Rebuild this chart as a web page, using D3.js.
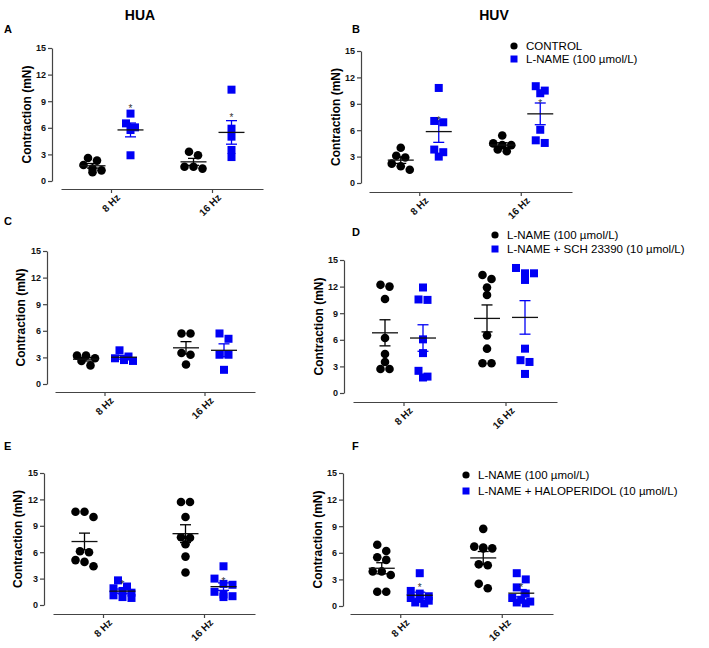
<!DOCTYPE html>
<html><head><meta charset="utf-8">
<script src="https://cdn.jsdelivr.net/npm/d3@7"></script>
<style>body{margin:0;background:#fff}svg{display:block}text{font-family:"Liberation Sans",Arial,sans-serif}</style>
</head><body><svg id="c" width="709" height="648"></svg>
<script>
// ---------- DATA ----------
const groups = ["8 Hz", "16 Hz"];
const yTicks = [0, 3, 6, 9, 12, 15];
const columnTitles = ["HUA", "HUV"];

// values per panel: [8 Hz values, 16 Hz values]
const A_black = [[2.6, 2.3, 1.8, 1.4, 1.0, 1.2], [3.3, 2.9, 1.6, 1.4, 1.6]];
const A_blue  = [[7.6, 6.5, 6.05, 5.75, 2.9], [10.3, 5.9, 5.0, 3.5, 2.7]];
const A_star  = [8.5, 7.5];

const B_black = [[4.0, 3.1, 2.9, 2.2, 1.9, 1.5], [5.4, 4.5, 4.3, 4.3, 3.8, 3.6]];
const B_blue  = [[10.8, 7.05, 6.9, 3.8, 3.5, 3.0], [11.0, 10.5, 10.2, 6.05, 4.85, 4.55]];
const B_star  = [7.4, 9.3];

const C_black = [[3.2, 3.2, 2.9, 2.6, 2.1], [5.7, 5.7, 3.5, 3.3, 2.2]];
const C_blue  = [[3.8, 3.1, 2.9, 2.7, 2.6], [5.7, 5.1, 3.3, 3.3, 1.6]];
const C_star  = [null, null];

const D_black = [[12.2, 12.0, 10.6, 6.2, 4.4, 3.5, 2.7, 2.7], [13.3, 12.85, 11.9, 11.05, 6.5, 5.0, 3.35, 3.35]];
const D_blue  = [[11.9, 10.55, 10.5, 6.05, 4.5, 2.5, 1.75, 1.85], [14.1, 13.5, 13.5, 12.75, 5.0, 3.7, 3.5, 2.15]];
const D_star  = [null, null];

const E_black = [[10.6, 10.6, 10.0, 6.1, 6.0, 5.1, 4.9, 4.4], [11.7, 11.7, 10.0, 7.7, 7.65, 6.9, 5.5, 3.7]];
const E_blue  = [[2.8, 2.1, 1.9, 1.6, 1.4, 1.1, 0.9, 0.8], [4.4, 3.0, 2.4, 2.3, 1.5, 1.2, 1.0, 0.9]];
const E_star  = [2.6, 3.0];

const F_black = [[6.9, 6.2, 5.5, 5.2, 3.9, 3.9, 3.5, 1.6, 1.6], [8.7, 6.7, 6.6, 6.5, 6.5, 4.7, 4.6, 2.5, 2.0]];
const F_blue  = [[3.7, 1.7, 1.4, 1.1, 0.9, 0.8, 0.6, 0.4, 0.3], [3.7, 3.0, 2.1, 1.4, 0.9, 0.7, 0.5, 0.4, 0.3]];
const F_star  = [2.4, 2.4];

const B_legend = ["CONTROL", "L-NAME (100 \u00b5mol/L)"];
const D_legend = ["L-NAME (100 \u00b5mol/L)", "L-NAME + SCH 23390 (10 \u00b5mol/L)"];
const F_legend = ["L-NAME  (100 \u00b5mol/L)", "L-NAME + HALOPERIDOL (10 \u00b5mol/L)"];

const yTitle = "Contraction (mN)";

// ---------- LAYOUT ----------
const layout = {
  A: {ax: 52,  y15: 48,  y0: 181, xAxisY: 189, x0: 61,  x1: 263, titleX: 27,  letter: [4, 33]},
  B: {ax: 361, y15: 51,  y0: 183, xAxisY: 192, x0: 369, x1: 572, titleX: 336, letter: [352, 33]},
  C: {ax: 47,  y15: 251, y0: 384, xAxisY: 392, x0: 55,  x1: 255, titleX: 21,  letter: [4, 225]},
  D: {ax: 344, y15: 260, y0: 393, xAxisY: 402, x0: 353, x1: 557, titleX: 319, letter: [352, 236]},
  E: {ax: 44,  y15: 473, y0: 605, xAxisY: 614, x0: 53,  x1: 255, titleX: 18,  letter: [4, 450]},
  F: {ax: 343, y15: 473, y0: 606, xAxisY: 614, x0: 350, x1: 553, titleX: 318, letter: [352, 450]}
};
const legendPos = {B: {x: 514, y: 46, dy: 13}, D: {x: 495, y: 235, dy: 14}, F: {x: 466, y: 475, dy: 16}};

const panels = [
  {id: "A", black: A_black, blue: A_blue, star: A_star},
  {id: "B", black: B_black, blue: B_blue, star: B_star, legend: B_legend},
  {id: "C", black: C_black, blue: C_blue, star: C_star},
  {id: "D", black: D_black, blue: D_blue, star: D_star, legend: D_legend},
  {id: "E", black: E_black, blue: E_blue, star: E_star},
  {id: "F", black: F_black, blue: F_blue, star: F_star, legend: F_legend}
];

const BLUE = "#0000f5", AXIS = "#444";
const svg = d3.select("#c");

svg.append("text").attr("x", 140).attr("y", 20).attr("text-anchor", "middle")
  .attr("font-weight", "bold").attr("font-size", 14).text(columnTitles[0]);
svg.append("text").attr("x", 494).attr("y", 20).attr("text-anchor", "middle")
  .attr("font-weight", "bold").attr("font-size", 14).text(columnTitles[1]);

function swarm(vals, y, d) {
  const idx = vals.map((v, i) => i).sort((a, b) => vals[b] - vals[a]);
  const rows = []; let cur = null;
  idx.forEach(i => {
    const py = y(vals[i]);
    if (cur && Math.abs(py - cur.y0) < d * 0.7 && cur.items.length < 3) cur.items.push(i);
    else { cur = {y0: py, items: [i]}; rows.push(cur); }
  });
  const off = new Array(vals.length).fill(0);
  rows.forEach(r => { const n = r.items.length; r.items.forEach((i, k) => off[i] = (k - (n - 1) / 2) * d); });
  return off;
}

panels.forEach(p => {
  const L = layout[p.id];
  const g = svg.append("g");
  const y = d3.scaleLinear().domain([0, 15]).range([L.y0, L.y15]);
  const x = d3.scaleBand().domain(groups).range([L.x0, L.x1]).paddingInner(0).paddingOuter(0);

  g.append("text").attr("x", L.letter[0]).attr("y", L.letter[1]).attr("font-weight", "bold")
    .attr("font-size", 11).text(p.id);

  const ya = g.append("g").attr("transform", `translate(${L.ax},0)`)
    .call(d3.axisLeft(y).tickValues(yTicks).tickSize(4).tickSizeOuter(0).tickPadding(2));
  ya.select(".domain").attr("stroke", AXIS).attr("stroke-width", 1.2);
  ya.selectAll(".tick line").attr("stroke", AXIS).attr("stroke-width", 1.2);
  ya.selectAll(".tick text").attr("font-size", 9).attr("font-weight", "bold").attr("fill", "#111")
    .attr("font-family", '"Liberation Sans",Arial,sans-serif');

  const xa = g.append("g").attr("transform", `translate(0,${L.xAxisY})`)
    .call(d3.axisBottom(x).tickSize(4).tickSizeOuter(0));
  xa.select(".domain").attr("stroke", AXIS).attr("stroke-width", 1.2);
  xa.selectAll(".tick line").attr("stroke", AXIS).attr("stroke-width", 1.2);
  xa.selectAll(".tick text").attr("font-size", 10).attr("font-weight", "bold").attr("fill", "#111")
    .attr("font-family", '"Liberation Sans",Arial,sans-serif')
    .attr("text-anchor", "end").attr("transform", "translate(4,4) rotate(-45)").attr("dy", "0.35em").attr("y", 4).attr("x", 0);

  g.append("text").attr("transform", `translate(${L.titleX},${(L.y0 + L.y15) / 2}) rotate(-90)`)
    .attr("text-anchor", "middle").attr("dy", "0.35em").attr("font-weight", "bold").attr("font-size", 12)
    .text(yTitle);

  const half = x.bandwidth() / 2;
  const series = [
    {vals: p.black, color: "#000", shape: "circle", dx: -19, barColor: "#000"},
    {vals: p.blue, color: BLUE, shape: "square", dx: 19, barColor: BLUE}
  ];
  series.forEach(s => {
    groups.forEach((grp, gi) => {
      const vals = s.vals[gi];
      const cx = x(grp) + half + s.dx;
      const off = swarm(vals, y, 9);
      if (s.shape === "circle") {
        g.selectAll(null).data(vals).enter().append("circle")
          .attr("cx", (v, i) => cx + off[i]).attr("cy", v => y(v)).attr("r", 4.3).attr("fill", s.color);
      } else {
        g.selectAll(null).data(vals).enter().append("rect")
          .attr("x", (v, i) => cx + off[i] - 4).attr("y", v => y(v) - 4).attr("width", 8).attr("height", 8)
          .attr("fill", s.color);
      }
      const m = d3.mean(vals), sem = d3.deviation(vals) / Math.sqrt(vals.length);
      g.append("line").attr("x1", cx).attr("x2", cx).attr("y1", y(m - sem)).attr("y2", y(m + sem))
        .attr("stroke", s.barColor).attr("stroke-width", 1.3);
      [m - sem, m + sem].forEach(v => g.append("line").attr("x1", cx - 5.5).attr("x2", cx + 5.5)
        .attr("y1", y(v)).attr("y2", y(v)).attr("stroke", s.barColor).attr("stroke-width", 1.3));
      g.append("line").attr("x1", cx - 13).attr("x2", cx + 13).attr("y1", y(m)).attr("y2", y(m))
        .attr("stroke", "#111").attr("stroke-width", 1.3);
      if (s.shape === "square" && p.star[gi] != null) {
        g.append("text").attr("x", cx).attr("y", y(p.star[gi]) + 6).attr("text-anchor", "middle")
          .attr("font-size", 10).attr("fill", "#333").text("*");
      }
    });
  });

  if (p.legend) {
    const lp = legendPos[p.id];
    p.legend.forEach((t, i) => {
      const ly = lp.y + i * lp.dy;
      if (i === 0) g.append("circle").attr("cx", lp.x).attr("cy", ly).attr("r", 3.6).attr("fill", "#000");
      else g.append("rect").attr("x", lp.x - 3.5).attr("y", ly - 3.5).attr("width", 7).attr("height", 7).attr("fill", BLUE);
      g.append("text").attr("x", lp.x + 12).attr("y", ly).attr("dy", "0.36em").attr("font-size", 11.5).text(t);
    });
  }
});
</script></body></html>
